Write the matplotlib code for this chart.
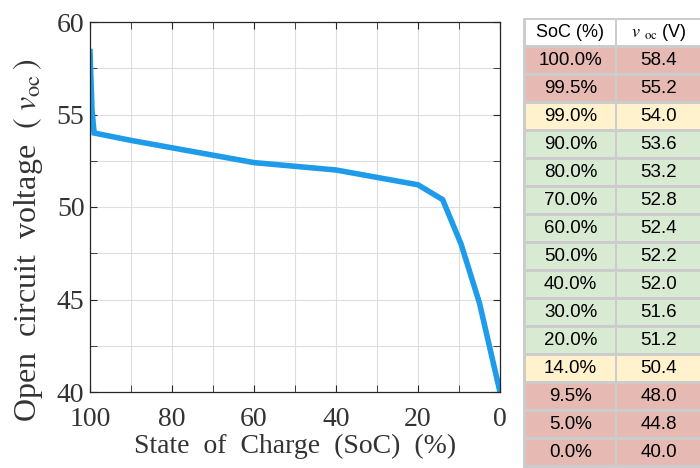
import numpy as np
import matplotlib
matplotlib.use('Agg')
import matplotlib.pyplot as plt
from matplotlib.patches import Rectangle

# data
soc = [100, 99.5, 99, 90, 80, 70, 60, 50, 40, 30, 20, 14, 9.5, 5, 0]
voc = [58.4, 55.2, 54.0, 53.6, 53.2, 52.8, 52.4, 52.2, 52.0, 51.6, 51.2, 50.4, 48.0, 44.8, 40.0]
# row category for table colour: r = red, y = yellow, g = green
row_kind = ['r', 'r', 'y', 'g', 'g', 'g', 'g', 'g', 'g', 'g', 'g', 'y', 'r', 'r', 'r']
xticks = [100, 80, 60, 40, 20, 0]
yticks = [40, 45, 50, 55, 60]

colors = {'r': '#e6b9b2', 'y': '#fff2cc', 'g': '#d9ead3'}

plt.rcParams['mathtext.fontset'] = 'stix'

fig = plt.figure(figsize=(7, 4.68), dpi=100)
ax = fig.add_axes([90/700, 1-392/468, 410/700, 370/468])

ax.plot(soc, voc, color='#1e9be9', lw=4, solid_joinstyle='miter')
ax.set_xlim(100, 0)
ax.set_ylim(40, 60)
ax.set_xticks(xticks)
ax.set_yticks(yticks)
ax.set_xticks(np.arange(0, 101, 10), minor=True)
ax.set_yticks(np.arange(40, 60.1, 2.5), minor=True)
ax.grid(True, which='both', color='#dedede', lw=0.8)
ax.set_axisbelow(True)
ax.tick_params(which='both', direction='in', top=True, right=True, color='#262626')
ax.tick_params(which='major', length=5, labelsize=20, labelcolor='#333333')
ax.tick_params(axis='x', which='major', pad=11)
ax.tick_params(axis='y', which='major', pad=4)
ax.tick_params(which='minor', length=5)
for lab in ax.get_xticklabels() + ax.get_yticklabels():
    lab.set_family('Liberation Serif')
for s in ax.spines.values():
    s.set_color('#262626')
    s.set_linewidth(0.9)
ax.set_xlabel('State  of  Charge  (SoC)  (%)', family='Liberation Serif', fontsize=20,
              color='#333333', labelpad=1)
ax.set_ylabel(r'Open  circuit  voltage  $(\,\,v_{\rm oc}\,)$', family='Liberation Serif',
              fontsize=23, color='#333333')
ax.yaxis.set_label_coords(-0.11, 0.41)

# table
tab = fig.add_axes([0, 0, 1, 1])
tab.set_xlim(0, 700)
tab.set_ylim(468, 0)
tab.axis('off')
tab.add_patch(Rectangle((523, 18), 177, 450, color='#cccccc', lw=0))
x0, x1, x2 = 526, 617, 700
rh = 28
top = 20
def cell(x, y, w, c):
    tab.add_patch(Rectangle((x, y), w, rh - 3, color=c, lw=0))

cell(x0, top, x1 - x0 - 2, 'white')
cell(x1, top, x2 - x1, 'white')
tab.text((x0 + x1 - 2) / 2, top + 12.5, 'SoC (%)', ha='center', va='center',
         family='Liberation Sans', fontsize=13)
tab.text((x1 + x2) / 2, top + 12.5, r'$v$ $_{\rm oc}$ (V)', ha='center', va='center',
         family='Liberation Sans', fontsize=13)
for i, (s, v, k) in enumerate(zip(soc, voc, row_kind)):
    y = top + rh * (i + 1)
    cell(x0, y, x1 - x0 - 2, colors[k])
    cell(x1, y, x2 - x1, colors[k])
    tab.text((x0 + x1 - 2) / 2, y + 12.5, f'{s:.1f}%', ha='center', va='center',
             family='Liberation Sans', fontsize=13.5)
    tab.text((x1 + x2) / 2, y + 12.5, f'{v:.1f}', ha='center', va='center',
             family='Liberation Sans', fontsize=13.5)

plt.savefig('out.png', dpi=100)
